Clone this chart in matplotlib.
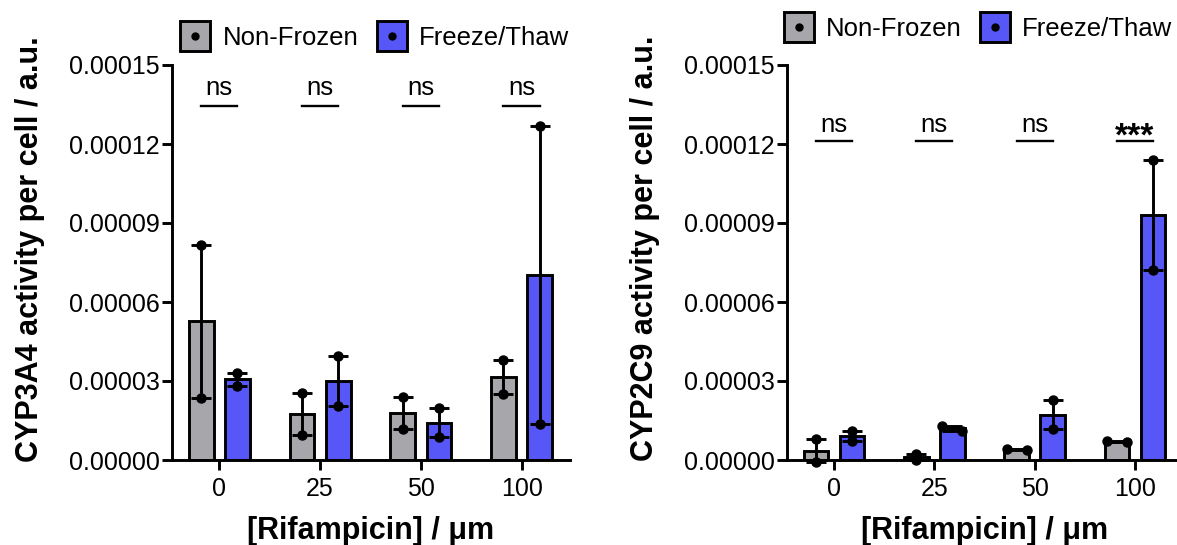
import numpy as np
import matplotlib
matplotlib.use("Agg")
import matplotlib.pyplot as plt
from matplotlib.lines import Line2D

plt.rcParams['font.family'] = ['Liberation Sans', 'DejaVu Sans']

doses = ["0", "25", "50", "100"]
groups = ["Non-Frozen", "Freeze/Thaw"]
colors = ["#a6a6ab", "#5757f7"]

# two replicate measurements per condition
cyp3a4_nonfrozen = [[8.16e-5, 2.37e-5], [2.53e-5, 0.95e-5], [2.40e-5, 1.17e-5], [3.80e-5, 2.49e-5]]
cyp3a4_freeze = [[3.32e-5, 2.81e-5], [3.95e-5, 2.05e-5], [1.96e-5, 0.86e-5], [12.70e-5, 1.35e-5]]
cyp2c9_nonfrozen = [[0.78e-5, -0.06e-5], [0.23e-5, -0.01e-5], [0.42e-5, 0.38e-5], [0.72e-5, 0.68e-5]]
cyp2c9_freeze = [[1.10e-5, 0.74e-5], [1.30e-5, 1.10e-5], [2.28e-5, 1.17e-5], [11.38e-5, 7.22e-5]]

cyp3a4_sig = ["ns", "ns", "ns", "ns"]
cyp2c9_sig = ["ns", "ns", "ns", "***"]

W, H = 1177, 545
fig = plt.figure(figsize=(W / 100, H / 100), dpi=100)

LW = 2.1
offsets = [-0.18, 0.18]


def draw_panel(rect, nonfrozen, freeze, sig, ylabel, line_y, ns_y, star_y, label_x, label_y):
    ax = fig.add_axes(rect)
    x = np.arange(len(doses))
    for reps, col, off in zip([nonfrozen, freeze], colors, offsets):
        reps = np.asarray(reps)
        mean = reps.mean(axis=1)
        half = (reps.max(axis=1) - reps.min(axis=1)) / 2
        xs = x + off
        ax.bar(xs, mean, width=0.245, color=col, edgecolor='black',
               linewidth=LW, zorder=2)
        eb = ax.errorbar(xs, mean, yerr=half, fmt='none', ecolor='black',
                         elinewidth=LW, capsize=7, capthick=LW, zorder=3)
        for art in eb.get_children():
            art.set_clip_on(False)
        for i in range(len(doses)):
            a, b = reps[i]
            # overlapping replicates are spread sideways
            spread = 0.1 if abs(a - b) < 0.22e-5 else 0.0
            ax.plot([xs[i] - spread, xs[i] + spread], [a, b], 'o', color='black',
                    ms=6.5, zorder=4, clip_on=False)

    for i, s in enumerate(sig):
        ax.plot([x[i] - 0.18, x[i] + 0.18], [line_y, line_y], color='black',
                lw=1.7, zorder=3, clip_on=False)
        if s.startswith('*'):
            ax.text(x[i], star_y, s, ha='center', va='baseline', fontsize=24,
                    fontweight='bold')
        else:
            ax.text(x[i], ns_y, s, ha='center', va='baseline', fontsize=18.5)

    ax.set_xlim(-0.47, 3.48)
    ax.set_ylim(0, 0.00015)
    ax.set_yticks(np.arange(0, 0.000151, 0.00003))
    ax.yaxis.set_major_formatter(matplotlib.ticker.FormatStrFormatter('%.5f'))
    ax.set_xticks(x)
    ax.set_xticklabels(doses)
    for side in ['top', 'right']:
        ax.spines[side].set_visible(False)
    for side in ['left', 'bottom']:
        ax.spines[side].set_linewidth(LW)
        ax.spines[side].set_zorder(5)
    ax.tick_params(axis='both', labelsize=18, width=LW, length=7, direction='out')
    ax.tick_params(axis='y', pad=2)
    ax.tick_params(axis='x', pad=5)
    ax.set_ylabel(ylabel, fontsize=22, fontweight='bold')
    ax.yaxis.set_label_coords(label_x, label_y)
    ax.set_xlabel("[Rifampicin] / μm", fontsize=22, fontweight='bold', labelpad=11)
    return ax


ax1 = draw_panel([172 / W, 85 / H, 398 / W, 395 / H], cyp3a4_nonfrozen, cyp3a4_freeze,
                 cyp3a4_sig, "CYP3A4 activity per cell / a.u.",
                 13.45e-5, 13.86e-5, 13.4e-5, -0.318, 0.534)
ax2 = draw_panel([787 / W, 85 / H, 396 / W, 395 / H], cyp2c9_nonfrozen, cyp2c9_freeze,
                 cyp2c9_sig, "CYP2C9 activity per cell / a.u.",
                 12.1e-5, 12.47e-5, 11.95e-5, -0.32, 0.536)


def legend_handles():
    hs = []
    for col in colors:
        sq = Line2D([], [], marker='s', ms=21, mfc=col, mec='black', mew=LW, ls='none')
        dot = Line2D([], [], marker='o', ms=5, color='black', ls='none')
        hs.append((sq, dot))
    return hs


for left_px, cy_px in [(182.6, 37.7), (786.2, 29.0)]:
    fig.legend(handles=legend_handles(), labels=groups, loc='center left',
               bbox_to_anchor=(left_px / W, 1 - cy_px / H), ncol=2, frameon=False,
               fontsize=18.5, handlelength=1.0, handletextpad=0.55,
               columnspacing=0.8, borderpad=0, borderaxespad=0)

fig.savefig("out.png", dpi=100)
